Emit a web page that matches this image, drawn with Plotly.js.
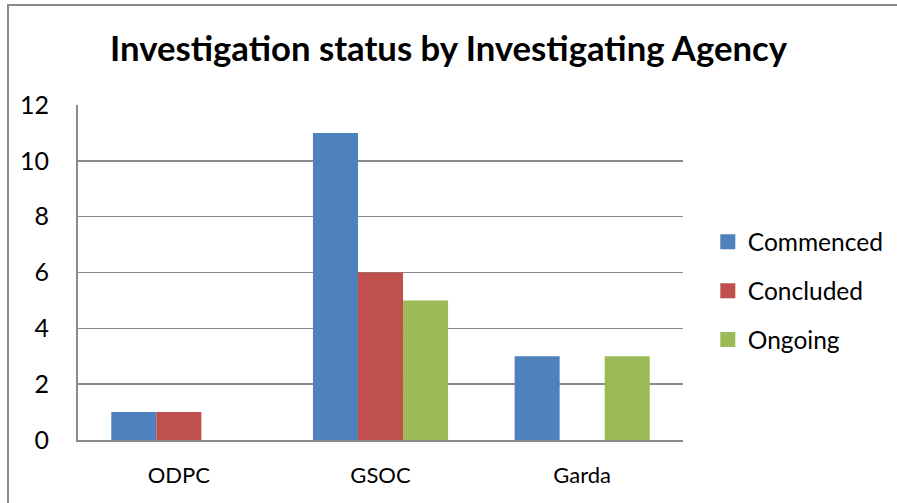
<!DOCTYPE html>
<html>
<head>
<meta charset="utf-8">
<script src="https://cdn.plot.ly/plotly-3.0.1.min.js"></script>
<style>
  html, body { margin: 0; padding: 0; width: 897px; height: 503px; overflow: hidden; background: #fff; }
  #frame { position: absolute; left: 7px; top: 4px; width: 1000px; height: 600px; border: 2px solid #8a8a8a; }
  #chart { position: absolute; left: 0; top: 0; width: 897px; height: 503px; }
</style>
</head>
<body>
<div id="frame"></div>
<div id="chart"></div>
<script>
const categories = ["ODPC", "GSOC", "Garda"];
const commenced = [1, 11, 3];
const concluded = [1, 6, 0];
const ongoing = [0, 5, 3];
const seriesNames = ["Commenced", "Concluded", "Ongoing"];
const colors = ["#4F81BD", "#C0504D", "#9BBB59"];
const yTicks = [0, 2, 4, 6, 8, 10, 12];

const FONT = "Lato, 'Open Sans', sans-serif";
const values = [commenced, concluded, ongoing];
const traces = values.map((v, i) => ({
  type: "bar",
  x: categories,
  y: v,
  name: seriesNames[i],
  showlegend: false,
  marker: { color: colors[i], line: { width: 0 } }
}));
// legend-only entries with square swatches
seriesNames.forEach((n, i) => {
  traces.push({
    type: "scatter",
    mode: "markers",
    x: [null], y: [null],
    name: n,
    legendgroup: "g" + i,
    marker: { symbol: "square", size: 15, color: colors[i] },
    showlegend: true
  });
});

const layout = {
  width: 897,
  height: 503,
  paper_bgcolor: "rgba(0,0,0,0)",
  plot_bgcolor: "rgba(0,0,0,0)",
  margin: { l: 78, r: 214, t: 105, b: 63, autoexpand: false },
  title: {
    text: "<b>Investigation status by Investigating Agency</b>",
    font: { family: FONT, size: 34.7, color: "#000" },
    x: 0.5, xanchor: "center", xref: "container",
    y: 1, yref: "container", yanchor: "top", pad: { t: 37 }
  },
  barmode: "group",
  bargap: 0.33,
  bargroupgap: 0,
  xaxis: {
    type: "category",
    showgrid: false,
    showline: true,
    linecolor: "#8a8a8a",
    linewidth: 2,
    ticks: "",
    tickfont: { family: FONT, size: 22, color: "#000" },
    ticklabelstandoff: 15,
    zeroline: false,
    fixedrange: true
  },
  yaxis: {
    range: [0, 12],
    tickvals: yTicks,
    ticktext: yTicks.map(String),
    showgrid: true,
    gridcolor: "#8a8a8a",
    gridwidth: 1.5,
    showline: true,
    linecolor: "#8a8a8a",
    linewidth: 2,
    ticks: "",
    tickfont: { family: FONT, size: 25, color: "#000" },
    ticklabelstandoff: 22,
    zeroline: false,
    fixedrange: true
  },
  showlegend: true,
  legend: {
    x: 1.041, xanchor: "left",
    y: 0.445, yanchor: "middle",
    font: { family: FONT, size: 24.5, color: "#000" },
    tracegroupgap: 14,
    itemwidth: 30,
    bgcolor: "rgba(0,0,0,0)"
  }
};

Plotly.newPlot("chart", traces, layout, { displayModeBar: false, staticPlot: true });
</script>
</body>
</html>
